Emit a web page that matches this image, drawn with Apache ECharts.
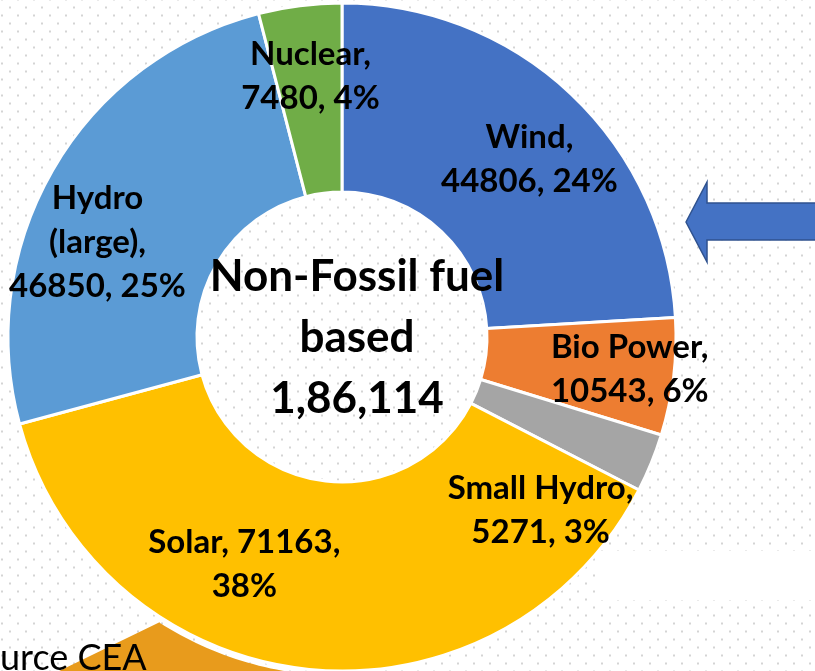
<!DOCTYPE html>
<html>
<head>
<meta charset="utf-8">
<script src="https://cdn.jsdelivr.net/npm/echarts@6/dist/echarts.min.js"></script>
<style>
  html, body {
    margin: 0;
    padding: 0;
    width: 815px;
    height: 671px;
    overflow: hidden;
    background-color: #ffffff;
    /* dotted slide background */
    background-image: radial-gradient(circle, #d4d4d4 1px, transparent 1.3px),
      radial-gradient(circle, #d4d4d4 1px, transparent 1.3px);
    background-size: 16px 16px;
    background-position: 2px -0.5px, -6px 7.5px;
  }
  #chart {
    width: 815px;
    height: 671px;
  }
</style>
</head>
<body>
<div id="chart"></div>
<script>
  // 非化石能源装机容量 (MW)
  const categories = ['Wind', 'Bio Power', 'Small Hydro', 'Solar', 'Hydro\n(large)', 'Nuclear'];
  const capacity = [44806, 10543, 5271, 71163, 46850, 7480];
  const shares = [24, 6, 3, 38, 25, 4];
  const centerLines = ['Non-Fossil fuel', 'based', '1,86,114'];
  const sourceText = 'urce CEA';

  const colors = ['#4472C4', '#ED7D31', '#A5A5A5', '#FFC000', '#5B9BD5', '#70AD47'];
  // how each label breaks into lines
  const labelFormats = [
    '{n},\n{v}, {p}%',
    '{n},\n{v}, {p}%',
    '{n},\n{v}, {p}%',
    '{n}, {v},\n{p}%',
    '{n},\n{v}, {p}%',
    '{n},\n{v}, {p}%',
  ];
  // nudge from the default inside position
  const labelShift = [[21, -1], [47, 3], [-26, 82], [-72, -14], [-35, 27], [-1, -20]];

  const cx = 342;
  const cy = 337;
  const rOuter = 334;
  const rInner = 145;

  const chart = echarts.init(document.getElementById('chart'), null, { renderer: 'canvas' });

  // orange shape peeking in from the slide below
  const orangePts = [[20, 690], [160, 622]];
  const a0 = Math.atan2(622 - cy, 160 - cx);
  const a1 = Math.atan2(690 - cy, 330 - cx);
  for (let i = 0; i <= 30; i++) {
    const a = a0 + (a1 - a0) * (i / 30);
    orangePts.push([cx + (rOuter + 5) * Math.cos(a), cy + (rOuter + 5) * Math.sin(a)]);
  }

  chart.setOption({
    animation: false,
    series: [
      {
        type: 'pie',
        center: [cx, cy],
        radius: [rInner, rOuter],
        startAngle: 90,
        clockwise: true,
        z: 3,
        silent: true,
        itemStyle: {
          borderColor: '#ffffff',
          borderWidth: 3,
        },
        label: {
          show: true,
          position: 'inside',
          color: '#000000',
          fontFamily: 'Lato',
          fontWeight: 'bold',
          fontSize: 33,
          lineHeight: 44,
          align: 'center',
          formatter: (params) => {
            const i = params.dataIndex;
            return labelFormats[i]
              .replace('{n}', categories[i])
              .replace('{v}', capacity[i])
              .replace('{p}', shares[i]);
          },
        },
        labelLine: { show: false },
        labelLayout: (params) => {
          const s = labelShift[params.dataIndex];
          return { dx: s[0], dy: s[1] };
        },
        data: categories.map((name, i) => ({
          name: name,
          value: capacity[i],
          itemStyle: { color: colors[i] },
        })),
      },
    ],
    graphic: [
      {
        type: 'polygon',
        z: 0,
        shape: { points: orangePts },
        style: { fill: '#E89B1C' },
      },
      {
        type: 'rect',
        z: 0,
        shape: { x: 600, y: 551, width: 215, height: 49 },
        style: { fill: '#ffffff' },
      },
      {
        // arrow pointing at the donut
        type: 'polygon',
        z: 5,
        shape: {
          points: [[686, 222], [707, 182], [707, 203], [820, 203], [820, 240], [707, 240], [707, 262]],
        },
        style: { fill: '#4472C4', stroke: '#2F528F', lineWidth: 1.5 },
      },
      {
        type: 'text',
        z: 6,
        x: cx + 15,
        y: cy + 1,
        style: {
          text: centerLines.join('\n'),
          fill: '#000000',
          font: 'bold 44px Lato',
          lineHeight: 61,
          align: 'center',
          verticalAlign: 'middle',
        },
      },
      {
        type: 'text',
        z: 6,
        x: 0,
        y: 676,
        style: {
          text: sourceText,
          fill: '#000000',
          font: '36px Lato',
          align: 'left',
          verticalAlign: 'bottom',
        },
      },
    ],
  });

  window.addEventListener('resize', function () {
    chart && chart.resize();
  });
</script>
</body>
</html>
